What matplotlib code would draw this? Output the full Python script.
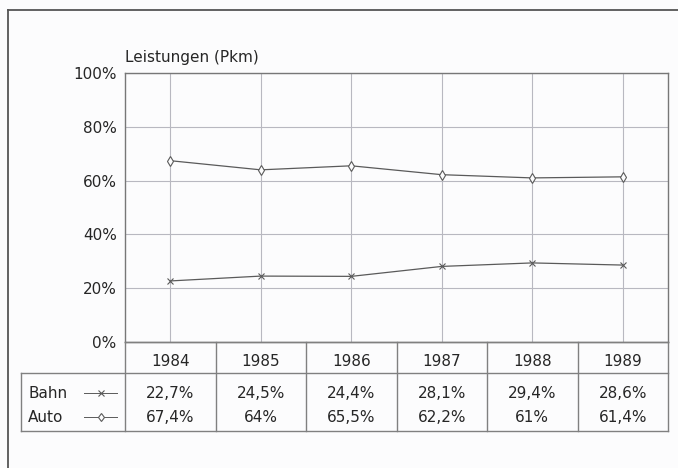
import matplotlib
matplotlib.use("Agg")
import matplotlib.pyplot as plt
from matplotlib.lines import Line2D

years = ["1984", "1985", "1986", "1987", "1988", "1989"]
bahn = [22.7, 24.5, 24.4, 28.1, 29.4, 28.6]
auto = [67.4, 64.0, 65.5, 62.2, 61.0, 61.4]
bahn_labels = ["22,7%", "24,5%", "24,4%", "28,1%", "29,4%", "28,6%"]
auto_labels = ["67,4%", "64%", "65,5%", "62,2%", "61%", "61,4%"]
series_names = ["Bahn", "Auto"]
yticks = [0, 20, 40, 60, 80, 100]
ytick_labels = ["0%", "20%", "40%", "60%", "80%", "100%"]
title = "Leistungen (Pkm)"

plt.rcParams['font.family'] = ['DejaVu Sans']
W, H = 678, 468
fig = plt.figure(figsize=(W / 100, H / 100), dpi=100)
bg = '#fcfcfd'
fig.patch.set_facecolor(bg)

def px_rect(l, t, r, b):
    return [l / W, 1 - b / H, (r - l) / W, (b - t) / H]

line_col = '#5a5a5a'
grid_col = '#b8b8c0'
frame_col = '#777777'
txt_col = '#262626'
fs = 11

# main plot
ax = fig.add_axes(px_rect(125, 73, 668, 342))
ax.set_facecolor(bg)
x = list(range(len(years)))
ax.plot(x, bahn, color=line_col, lw=0.9, marker='x', ms=5, mew=0.8)
ax.plot(x, auto, color=line_col, lw=0.9, marker='d', ms=5.5, mew=0.8, mfc=bg)
ax.set_xlim(-0.5, len(years) - 0.5)
ax.set_ylim(0, 100)
ax.set_xticks(x)
ax.set_xticklabels([])
ax.set_yticks(yticks)
ax.set_yticklabels(ytick_labels, fontsize=fs, color=txt_col)
ax.tick_params(length=0, pad=6)
ax.grid(True, color=grid_col, lw=0.8)
ax.set_axisbelow(True)
for s in ax.spines.values():
    s.set_color(frame_col)
    s.set_linewidth(1.0)
ax.text(0, 1.028, title, transform=ax.transAxes, fontsize=fs, color=txt_col,
        ha='left', va='bottom')

# table axes
col_w = (668 - 125) / len(years)
lab_w = (125 - 21) / col_w
tax = fig.add_axes(px_rect(21, 342, 668, 431))
tax.set_xlim(-0.5 - lab_w, len(years) - 0.5)
tax.set_ylim(89, 0)
tax.axis('off')
tcol = '#808080'
for i in range(len(years) + 1):
    xb = i - 0.5
    tax.plot([xb, xb], [0, 89], color=tcol, lw=1.0, clip_on=False)
tax.plot([-0.5, len(years) - 0.5], [0, 0], color=tcol, lw=1.0, clip_on=False)
tax.plot([-0.5 - lab_w, len(years) - 0.5], [31, 31], color=tcol, lw=1.0, clip_on=False)
tax.plot([-0.5 - lab_w, len(years) - 0.5], [89, 89], color=tcol, lw=1.0, clip_on=False)
tax.plot([-0.5 - lab_w, -0.5 - lab_w], [31, 89], color=tcol, lw=1.0, clip_on=False)

for i, yr in enumerate(years):
    tax.text(i, 19, yr, ha='center', va='center', fontsize=fs, color=txt_col)
    tax.text(i, 51, bahn_labels[i], ha='center', va='center', fontsize=fs, color=txt_col)
    tax.text(i, 75, auto_labels[i], ha='center', va='center', fontsize=fs, color=txt_col)

xl = -0.5 - lab_w
for name, yy, mk in [(series_names[0], 51, 'x'), (series_names[1], 75, 'd')]:
    tax.text(xl + 7 / col_w, yy, name, ha='left', va='center', fontsize=fs, color=txt_col)
    x0 = xl + 63 / col_w
    x1 = xl + 96 / col_w
    tax.plot([x0, x1], [yy, yy], color=line_col, lw=0.7)
    tax.plot([(x0 + x1) / 2], [yy], color=line_col, marker=mk, ms=4.5, mew=0.8,
             mfc=bg, lw=0)

# outer frame (top and left)
fig.add_artist(Line2D([8 / W, 1], [1 - 10 / H, 1 - 10 / H], transform=fig.transFigure,
                      color='#555555', lw=1.3))
fig.add_artist(Line2D([8 / W, 8 / W], [0, 1 - 10 / H], transform=fig.transFigure,
                      color='#555555', lw=1.3))

fig.savefig('out.png', dpi=100, facecolor=fig.get_facecolor())
